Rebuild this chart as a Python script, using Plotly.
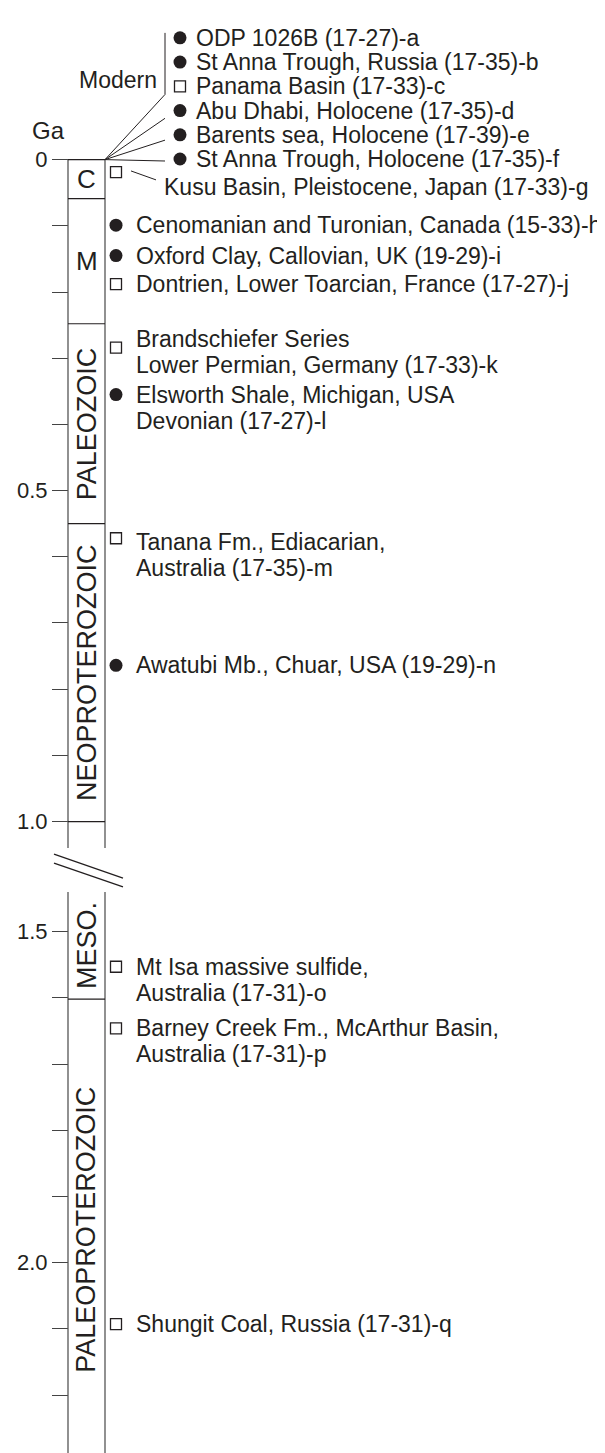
import plotly.graph_objects as go

# ---------------- data ----------------
tick_top = [0.0, 0.1, 0.2, 0.3, 0.4, 0.5, 0.6, 0.7, 0.8, 0.9, 1.0]
tick_top_labels = ["0", "", "", "", "", "0.5", "", "", "", "", "1.0"]
tick_bot = [1.5, 1.6, 1.7, 1.8, 1.9, 2.0, 2.1, 2.2]
tick_bot_labels = ["1.5", "", "", "", "", "2.0", "", ""]

era_names = ["C", "M", "PALEOZOIC", "NEOPROTEROZOIC", "MESO.", "PALEOPROTEROZOIC"]
era_start = [0.0, 0.059, 0.248, 0.55, 1.44, 1.602]
era_end = [0.059, 0.248, 0.55, 1.0, 1.602, 2.30]
era_section = ["top", "top", "top", "top", "bottom", "bottom"]
era_angle = [0, 0, -90, -90, -90, -90]

modern_labels = [
    "ODP 1026B (17-27)-a",
    "St Anna Trough, Russia (17-35)-b",
    "Panama Basin (17-33)-c",
    "Abu Dhabi, Holocene (17-35)-d",
    "Barents sea, Holocene (17-39)-e",
    "St Anna Trough, Holocene (17-35)-f",
]
modern_types = ["filled", "filled", "open", "filled", "filled", "filled"]

sample_lines = [
    ["Kusu Basin, Pleistocene, Japan (17-33)-g"],
    ["Cenomanian and Turonian, Canada (15-33)-h"],
    ["Oxford Clay, Callovian, UK (19-29)-i"],
    ["Dontrien, Lower Toarcian, France (17-27)-j"],
    ["Brandschiefer Series", "Lower Permian, Germany (17-33)-k"],
    ["Elsworth Shale, Michigan, USA", "Devonian (17-27)-l"],
    ["Tanana Fm., Ediacarian,", "Australia (17-35)-m"],
    ["Awatubi Mb., Chuar, USA (19-29)-n"],
    ["Mt Isa massive sulfide,", "Australia (17-31)-o"],
    ["Barney Creek Fm., McArthur Basin,", "Australia (17-31)-p"],
    ["Shungit Coal, Russia (17-31)-q"],
]
sample_ages = [0.019, 0.099, 0.145, 0.188, 0.284, 0.355, 0.572, 0.764, 1.553, 1.646, 2.093]
sample_types = ["open", "filled", "filled", "open", "open", "filled", "open", "filled", "open", "open", "open"]
sample_section = ["top"] * 8 + ["bottom"] * 3

# label placement (pixels, layout only)
label_dx = [28, 0, 0, 0, 0, 0, 0, 0, 0, 0, 0]
label_dy = [-15, 0, 0, 0, 9, 0, -4, 0, 0, 0, 0]

# ---------------- layout constants ----------------
W, H = 605, 1453
PX = 666.5          # pixels per Ga
Y0 = 142.6          # pixel of 0 Ga
Y15 = 920.0         # pixel of 1.5 Ga
TOP_START = -0.004  # tiny margin so the 0 tick is kept
TOP_END = 1.04
BOT_START = 1.44
BOT_END = 1.5 + (H - Y15) / PX
COL_L, COL_R = 60, 97
COL_C = (COL_L + COL_R) / 2
MK_X = 108
TXT_X = 126
TXT_COLOR = "#231f20"
FONT = "Liberation Sans, Arial, sans-serif"
FS = 23
LINE_H = 26
ROW0, ROWSTEP = 20.0, 24.4


def py(p):
    return 1 - p / H


top_dom = [py(Y0 + PX * TOP_END), py(Y0 + PX * TOP_START)]
bot_dom = [0, py(Y15 + PX * (BOT_START - 1.5))]
row_dom = [py(ROW0 + ROWSTEP * 5.5), py(ROW0 - ROWSTEP * 0.5)]

fig = go.Figure()

ref = {"top": "y", "bottom": "y2"}


def marker_style(kind):
    if kind == "filled":
        return dict(symbol="circle", size=13, color=TXT_COLOR, line=dict(width=0))
    return dict(symbol="square-open", size=11, color=TXT_COLOR, line=dict(width=1.3, color=TXT_COLOR))


# markers for dated samples
for sec in ["top", "bottom"]:
    for kind in ["filled", "open"]:
        ys = [a for a, t, s in zip(sample_ages, sample_types, sample_section) if t == kind and s == sec]
        if not ys:
            continue
        fig.add_trace(go.Scatter(
            x=[MK_X] * len(ys), y=ys, mode="markers", xaxis="x", yaxis=ref[sec],
            marker=marker_style(kind), cliponaxis=False, showlegend=False, hoverinfo="skip"))

# modern markers
for kind in ["filled", "open"]:
    rows = [i for i, t in enumerate(modern_types) if t == kind]
    fig.add_trace(go.Scatter(
        x=[172] * len(rows), y=rows, mode="markers", xaxis="x", yaxis="y3",
        marker=marker_style(kind), cliponaxis=False, showlegend=False, hoverinfo="skip"))

ann = []
# modern labels
for i, lab in enumerate(modern_labels):
    ann.append(dict(x=186, y=i, xref="x", yref="y3", text=lab, showarrow=False,
                    xanchor="left", yanchor="middle", font=dict(size=FS, color=TXT_COLOR, family=FONT)))

# sample labels
for lines, age, sec, dx, dy in zip(sample_lines, sample_ages, sample_section, label_dx, label_dy):
    for j, line in enumerate(lines):
        ann.append(dict(x=TXT_X + dx, y=age, xref="x", yref=ref[sec], text=line, showarrow=False,
                        xanchor="left", yanchor="middle", yshift=dy - LINE_H * j,
                        font=dict(size=FS, color=TXT_COLOR, family=FONT)))

# era labels
for name, s, e, sec, ang in zip(era_names, era_start, era_end, era_section, era_angle):
    ann.append(dict(x=COL_C, y=(s + e) / 2, xref="x", yref=ref[sec], text=name, showarrow=False,
                    textangle=ang, xanchor="center", yanchor="middle",
                    font=dict(size=26 if ang == 0 else 27, color=TXT_COLOR, family=FONT)))

ann.append(dict(x=40, y=py(113), xref="x", yref="paper", text="Ga", showarrow=False,
                xanchor="center", yanchor="middle", font=dict(size=24, color=TXT_COLOR, family=FONT)))
ann.append(dict(x=151, y=py(62), xref="x", yref="paper", text="Modern", showarrow=False,
                xanchor="right", yanchor="middle", font=dict(size=FS, color=TXT_COLOR, family=FONT)))

shapes = []
vline = dict(color="#555555", width=1.3)
hline = dict(color=TXT_COLOR, width=1.2)
# column sides
for yr, a, b in [("y", 0, TOP_END), ("y2", BOT_START, BOT_END)]:
    for xx in (COL_L, COL_R):
        shapes.append(dict(type="line", xref="x", yref=yr, x0=xx, x1=xx, y0=a, y1=b, line=vline))
# era boundaries (open ends of the broken column are left without a line)
bounds = sorted(set([(s, sec) for s, sec in zip(era_start, era_section)] +
                    [(e, sec) for e, sec in zip(era_end, era_section)]))
for val, sec in bounds:
    if val in (BOT_START, 2.30):
        continue
    shapes.append(dict(type="line", xref="x", yref=ref[sec], x0=COL_L, x1=COL_R, y0=val, y1=val, line=hline))

# leader lines for modern samples
lead = dict(color=TXT_COLOR, width=1)
shapes.append(dict(type="line", xref="x", yref="paper", x0=157, x1=157, y0=py(15), y1=py(77), line=lead))
for yy in (77, 101, 123, 144):
    shapes.append(dict(type="line", xref="x", yref="paper", x0=COL_R, x1=157, y0=py(Y0), y1=py(yy), line=lead))
shapes.append(dict(type="line", xref="x", yref="paper", x0=123, x1=148, y0=py(154), y1=py(163), line=lead))

# axis break symbol
for a, b in [(842, 866), (851, 875)]:
    shapes.append(dict(type="line", xref="x", yref="paper", x0=46, x1=115, y0=py(a), y1=py(b),
                       line=dict(color=TXT_COLOR, width=1.3)))

axis_common = dict(showgrid=False, zeroline=False, showline=False, ticks="outside", ticklen=16,
                   tickwidth=1, tickcolor="#444444", anchor="free", position=COL_L / W, side="left",
                   ticklabeloverflow="allow",
                   tickfont=dict(size=22, color=TXT_COLOR, family=FONT), fixedrange=True)

fig.update_layout(
    width=W, height=H, margin=dict(l=0, r=0, t=0, b=0),
    paper_bgcolor="white", plot_bgcolor="rgba(0,0,0,0)",
    xaxis=dict(range=[0, W], domain=[0, 1], visible=False, fixedrange=True),
    yaxis=dict(range=[TOP_END, TOP_START], domain=top_dom, tickmode="array", tickvals=tick_top,
               ticktext=tick_top_labels, **axis_common),
    yaxis2=dict(range=[BOT_END, BOT_START], domain=bot_dom, tickmode="array", tickvals=tick_bot,
                ticktext=tick_bot_labels, **axis_common),
    yaxis3=dict(range=[5.5, -0.5], domain=row_dom, visible=False, anchor="x", fixedrange=True),
    annotations=ann, shapes=shapes, showlegend=False, hovermode=False,
)

fig.write_html("out.html")
